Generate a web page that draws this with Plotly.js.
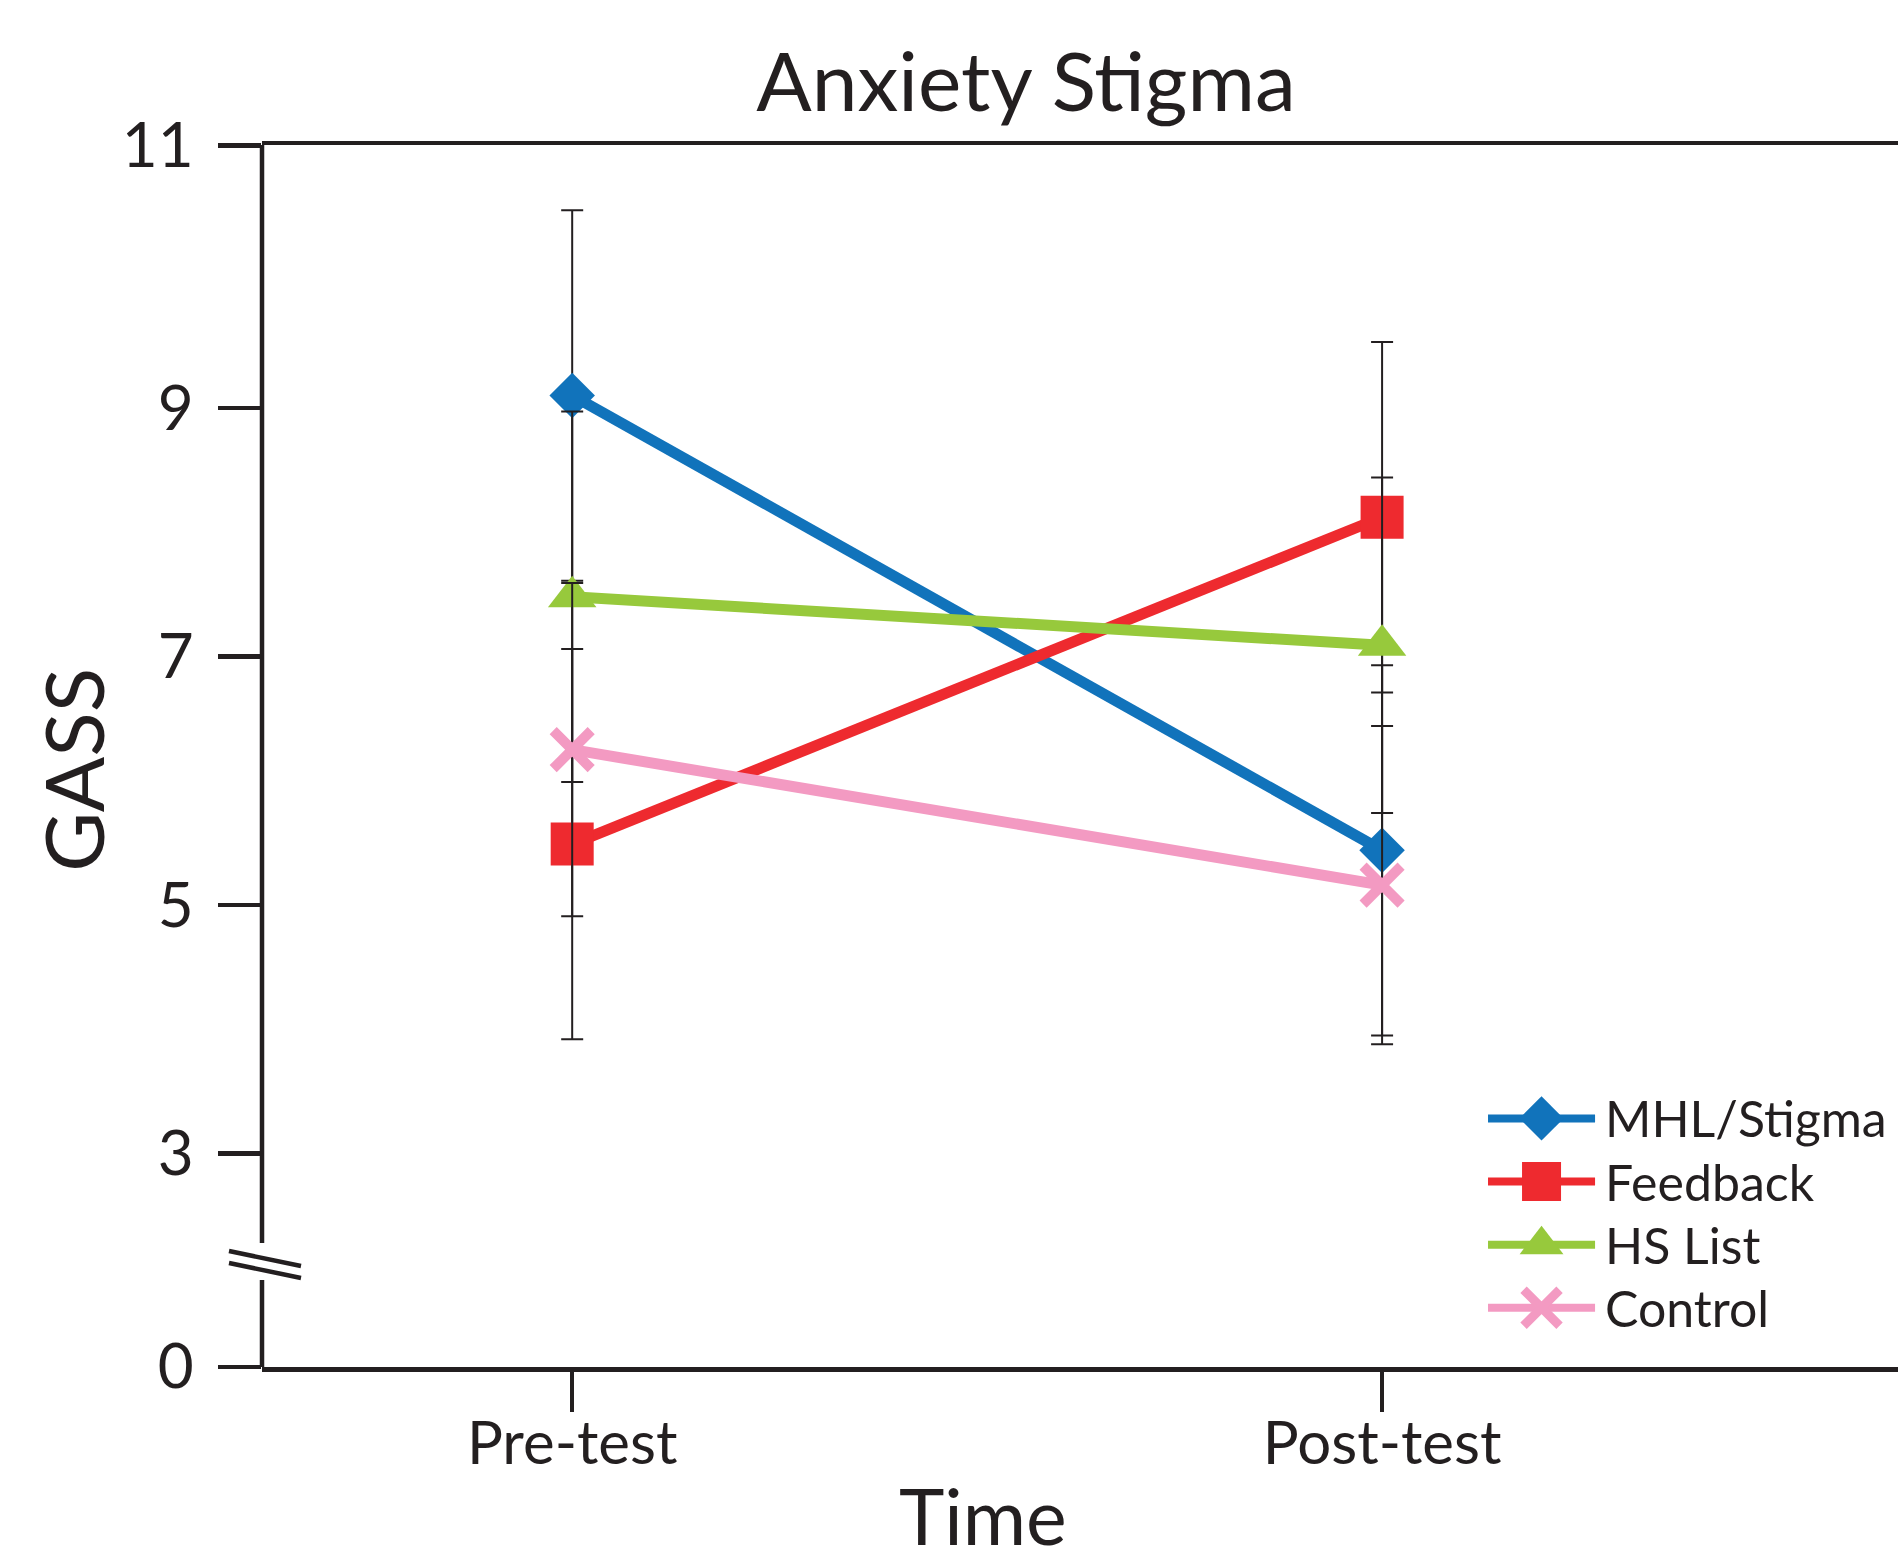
<!DOCTYPE html>
<html>
<head>
<meta charset="utf-8">
<script src="https://cdn.plot.ly/plotly-3.0.1.min.js"></script>
<style>
  html, body { margin: 0; padding: 0; background: #ffffff; }
  #chart { width: 1898px; height: 1561px; }
</style>
</head>
<body>
<div id="chart"></div>
<script>
// ---- data ----
const categories = ['Pre-test', 'Post-test'];
const seriesNames = ['MHL/Stigma', 'Feedback', 'HS List', 'Control'];
const mhlMeans = [9.10, 5.44];
const mhlSD = [1.49, 1.49];
const feedbackMeans = [5.49, 8.12];
const feedbackSD = [1.57, 1.41];
const hsListMeans = [7.48, 7.09];
const hsListSD = [1.49, 1.35];
const controlMeans = [6.25, 5.16];
const controlSD = [1.34, 1.28];
const yTickLabels = ['0', '3', '5', '7', '9', '11'];
const yTickValues = [3, 5, 7, 9];

// ---- styling ----
const INK = '#231f20';
const FONT = 'Lato, "Open Sans", sans-serif';
const colors = ['#1173bb', '#ee2a2f', '#97c93c', '#f39ac2'];
const symbols = ['diamond', 'square', 'triangle-up', 'x-thin'];
const markerSizes = [35, 43, 42, 38];
const legendMarkerSizes = [34, 39, 38, 36];

const means = [mhlMeans, feedbackMeans, hsListMeans, controlMeans];
const sds = [mhlSD, feedbackSD, hsListSD, controlSD];

// broken axis: "0" sits just below the break, "11" sits on the top frame line
const Y_MIN = 1.283;
const Y_MAX = 11.115;
const ZERO_POS = 1.285;
const TOP_POS = 11.112;
const BREAK_TOP = 2.281;
const BREAK_BOTTOM = 1.983;
const BREAK_MID = 2.112;

const traces = [];
for (let i = 0; i < seriesNames.length; i++) {
  const isX = symbols[i] === 'x-thin';
  traces.push({
    type: 'scatter',
    mode: 'lines+markers',
    name: seriesNames[i],
    x: categories,
    y: means[i],
    line: { color: colors[i], width: 11 },
    marker: {
      symbol: symbols[i],
      size: markerSizes[i],
      color: colors[i],
      opacity: 1,
      line: { color: colors[i], width: isX ? 10 : 0 }
    },
    error_y: {
      type: 'data',
      array: sds[i],
      visible: true,
      color: INK,
      thickness: 2,
      width: 11
    },
    showlegend: false,
    hoverinfo: 'x+y+name'
  });
}

// custom legend on a small auxiliary axis pair (large samples, like the original)
const legendAnnotations = [];
for (let i = 0; i < seriesNames.length; i++) {
  const isX = symbols[i] === 'x-thin';
  traces.push({
    type: 'scatter',
    mode: 'lines',
    xaxis: 'x2',
    yaxis: 'y2',
    x: [0, 1],
    y: [i, i],
    line: { color: colors[i], width: 8 },
    showlegend: false,
    hoverinfo: 'skip',
    cliponaxis: false
  });
  traces.push({
    type: 'scatter',
    mode: 'markers',
    xaxis: 'x2',
    yaxis: 'y2',
    x: [0.5],
    y: [i],
    marker: {
      symbol: symbols[i],
      size: legendMarkerSizes[i],
      color: colors[i],
      opacity: 1,
      line: { color: colors[i], width: isX ? 9 : 0 }
    },
    showlegend: false,
    hoverinfo: 'skip',
    cliponaxis: false
  });
  legendAnnotations.push({
    text: seriesNames[i],
    xref: 'x2', yref: 'y2', x: 1, y: i,
    xanchor: 'left', yanchor: 'middle', xshift: 8,
    showarrow: false,
    font: { family: FONT, size: 50, color: INK }
  });
}

const layout = {
  width: 1898,
  height: 1561,
  paper_bgcolor: '#ffffff',
  plot_bgcolor: '#ffffff',
  margin: { l: 262, r: 0, t: 145, b: 194 },
  font: { family: FONT, color: INK },
  showlegend: false,
  title: {
    text: 'Anxiety Stigma',
    font: { family: FONT, size: 82, color: INK },
    xref: 'paper',
    x: 0.467,
    xanchor: 'center',
    yref: 'container',
    y: 0.947,
    yanchor: 'middle'
  },
  xaxis: {
    type: 'category',
    categoryorder: 'array',
    categoryarray: categories,
    range: [-0.383, 1.637],
    showline: true,
    mirror: true,
    linecolor: INK,
    linewidth: 4.5,
    ticks: 'outside',
    ticklen: 40,
    tickwidth: 4.5,
    tickcolor: INK,
    tickfont: { family: FONT, size: 60, color: INK },
    ticklabelstandoff: -20,
    showgrid: false,
    zeroline: false,
    fixedrange: true
  },
  yaxis: {
    range: [Y_MIN, Y_MAX],
    tickmode: 'array',
    tickvals: [ZERO_POS].concat(yTickValues, [TOP_POS]),
    ticktext: yTickLabels,
    showline: false,
    ticks: 'outside',
    ticklen: 43,
    tickwidth: 4.5,
    tickcolor: INK,
    tickfont: { family: FONT, size: 62, color: INK },
    ticklabelstandoff: 12,
    showgrid: false,
    zeroline: false,
    fixedrange: true
  },
  xaxis2: {
    domain: [0.7494, 1],
    range: [0, 3.83],
    anchor: 'y2',
    visible: false,
    fixedrange: true
  },
  yaxis2: {
    domain: [0.0221, 0.2267],
    range: [3.51, -0.45],
    anchor: 'x2',
    visible: false,
    fixedrange: true
  },
  shapes: [
    { type: 'line', xref: 'paper', yref: 'y', x0: 0, x1: 0, y0: Y_MAX, y1: BREAK_TOP,
      line: { color: INK, width: 4.5 } },
    { type: 'line', xref: 'paper', yref: 'y', x0: 0, x1: 0, y0: BREAK_BOTTOM, y1: Y_MIN,
      line: { color: INK, width: 4.5 } },
    { type: 'line', xref: 'paper', xsizemode: 'pixel', xanchor: 0, x0: -33, x1: 39,
      yref: 'y', ysizemode: 'pixel', yanchor: BREAK_MID, y0: 13, y1: -2,
      line: { color: INK, width: 4.5 } },
    { type: 'line', xref: 'paper', xsizemode: 'pixel', xanchor: 0, x0: -33, x1: 39,
      yref: 'y', ysizemode: 'pixel', yanchor: BREAK_MID, y0: 1, y1: -14,
      line: { color: INK, width: 4.5 } }
  ],
  annotations: [
    { text: 'Time', xref: 'paper', yref: 'paper', x: 0.441, y: -0.121,
      xanchor: 'center', yanchor: 'middle', showarrow: false,
      font: { family: FONT, size: 77, color: INK } },
    { text: 'GASS', xref: 'paper', yref: 'paper', x: -0.116, y: 0.489,
      xanchor: 'center', yanchor: 'middle', textangle: -90, showarrow: false,
      font: { family: FONT, size: 82, color: INK } }
  ].concat(legendAnnotations)
};

Plotly.newPlot('chart', traces, layout, { displayModeBar: false, staticPlot: true });
</script>
</body>
</html>
